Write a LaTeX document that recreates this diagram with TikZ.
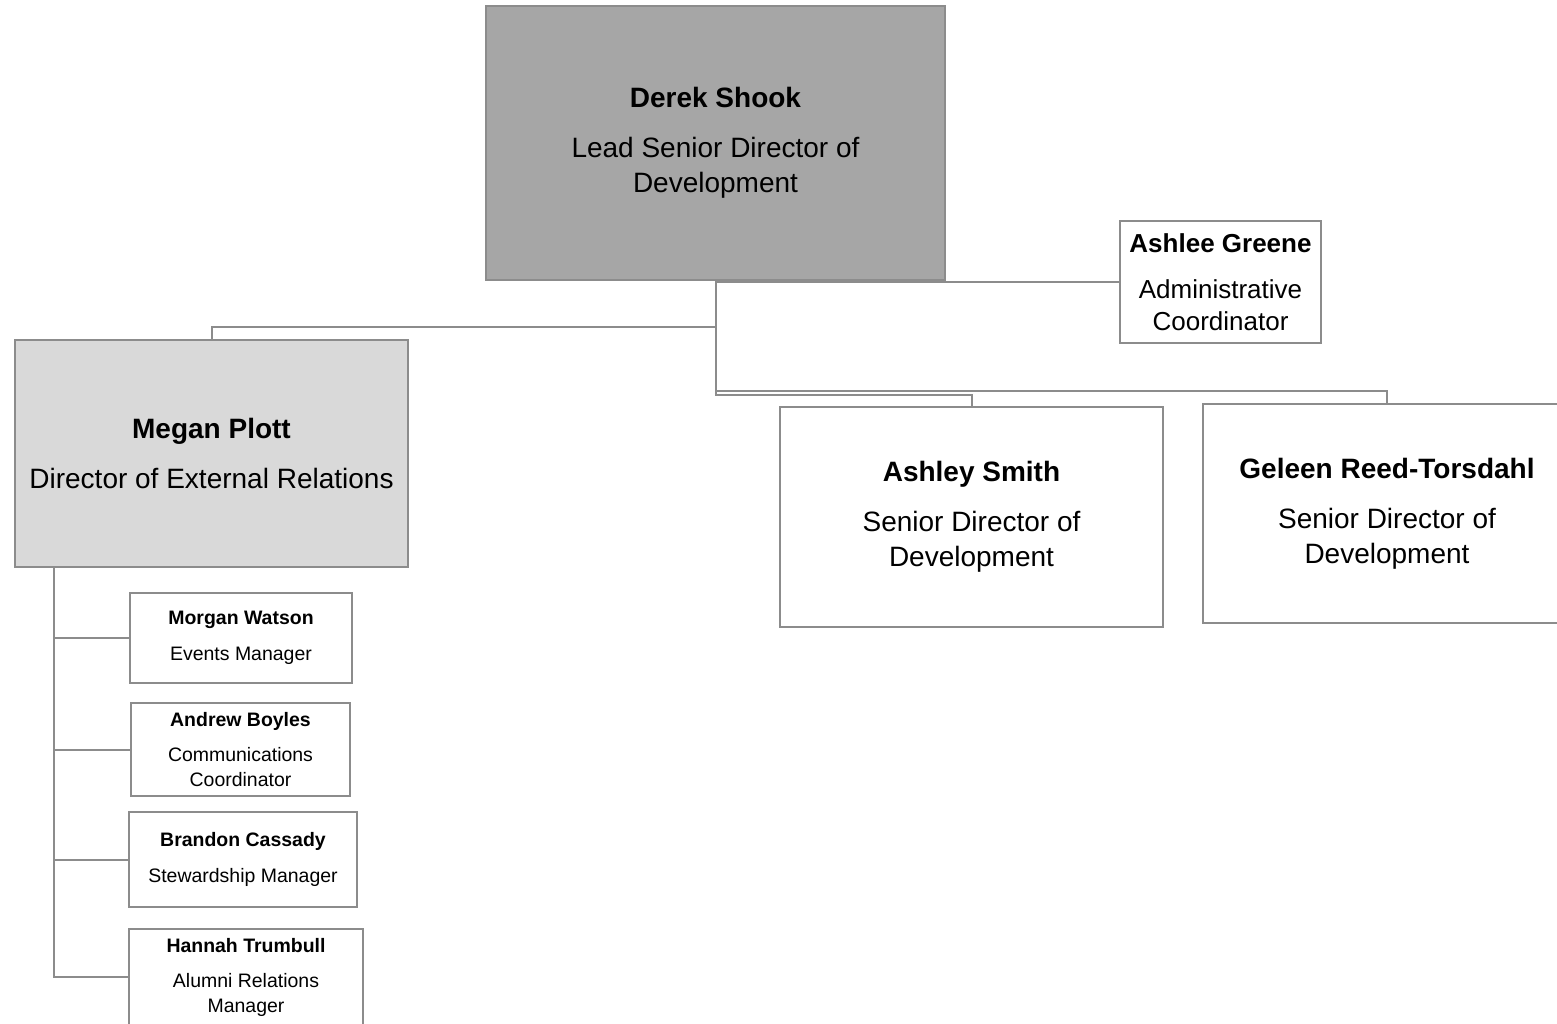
\documentclass[tikz,border=0pt]{standalone}
\usepackage{fontspec}
\setmainfont{Liberation Sans}
\usetikzlibrary{positioning}

\definecolor{leadfill}{HTML}{A6A6A6}
\definecolor{dirfill}{HTML}{D9D9D9}
\definecolor{rule}{HTML}{8C8C8C}

\newcommand{\person}[2]{\textbf{#1}\\[0.55em]#2}

\begin{document}
\begin{tikzpicture}[
    x=0.75pt, y=-0.75pt,
    box/.style={rectangle, draw=rule, line width=1.5pt, fill=white, align=center, inner sep=0pt},
    size/.style 2 args={minimum width=#1*0.75pt, minimum height=#2*0.75pt},
    big/.style={box, font=\fontsize{21}{26}\selectfont},
    mid/.style={box, font=\fontsize{19.5}{24}\selectfont},
    small/.style={box, font=\fontsize{14.6}{18.5}\selectfont},
    link/.style={draw=rule, line width=1.5pt}
]
    \useasboundingbox (0,0) rectangle (1557,1024);

    \node [big, fill=leadfill, size={459}{274}] (derek) at (715.5,143) {\person{Derek Shook}{Lead Senior Director of\\Development}};
    \node [mid, size={201}{122}] (ashlee) at (1220.5,282) {\person{Ashlee Greene}{Administrative\\Coordinator}};
    \node [big, fill=dirfill, size={393}{227}] (megan) at (211.5,453.5) {\person{Megan Plott}{Director of External Relations}};
    \node [big, size={383}{220}] (ashley) at (971.5,517) {\person{Ashley Smith}{Senior Director of\\Development}};
    \node [big, size={368}{219}] (geleen) at (1387,513.5) {\person{Geleen Reed-Torsdahl}{Senior Director of\\Development}};

    % team under Megan
    \node [small, size={222}{90}] (morgan) at (241,638) {\person{Morgan Watson}{Events Manager}};
    \node [small, size={219}{93}] (andrew) at (240.5,749.5) {\person{Andrew Boyles}{Communications\\Coordinator}};
    \node [small, size={228}{95}] (brandon) at (243,859.5) {\person{Brandon Cassady}{Stewardship Manager}};
    \node [small, size={234}{96}] (hannah) at (246,977) {\person{Hannah Trumbull}{Alumni Relations\\Manager}};

    \draw [link] (derek.south) |- (ashlee.west);
    \draw [link] (derek.south) -- ++(0,46) -| (megan.north);
    \draw [link] (derek.south) -- ++(0,110) -| (geleen.north);
    \draw [link] (derek.south) -- ++(0,114) -| (ashley.north);

    \coordinate (trunk) at ([xshift=30pt]megan.south west);
    \foreach \kid in {morgan, andrew, brandon, hannah}
        \draw [link] (trunk) |- (\kid.west);
\end{tikzpicture}
\end{document}
